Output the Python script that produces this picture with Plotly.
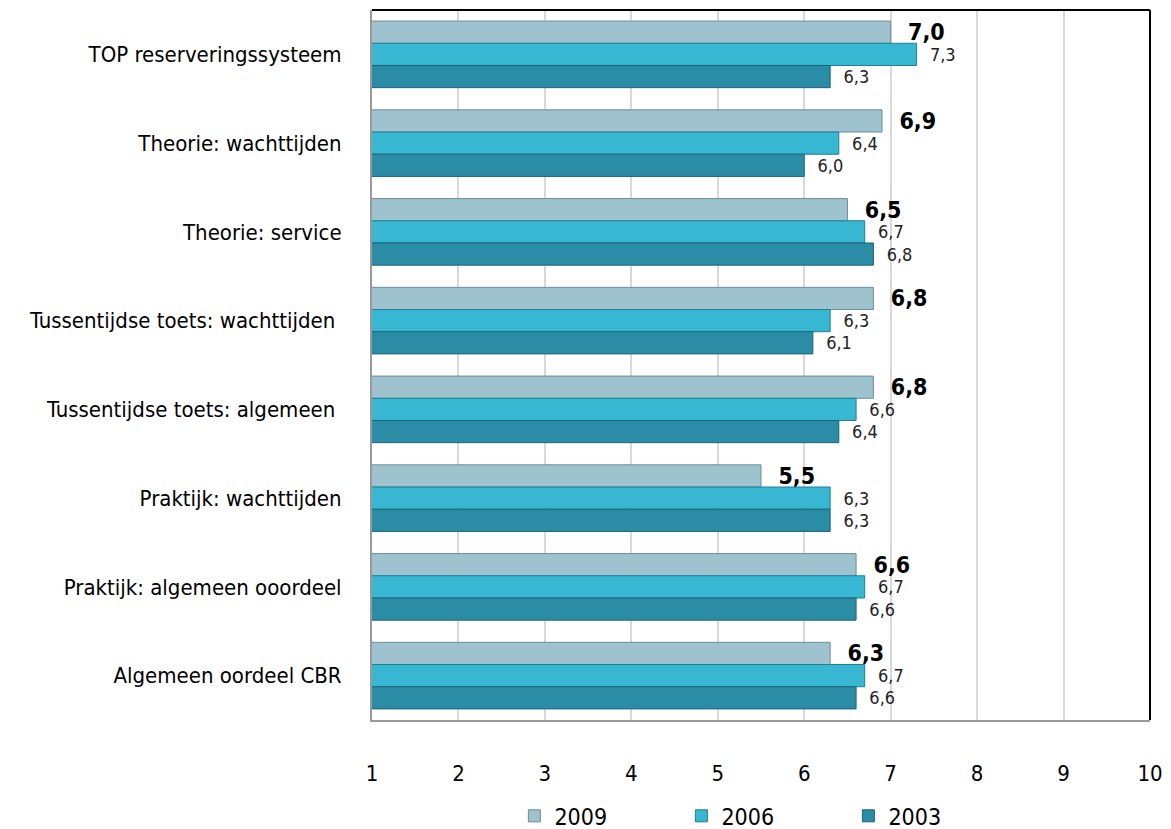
import plotly.graph_objects as go

categories = [
    "TOP reserveringssysteem",
    "Theorie: wachttijden",
    "Theorie: service",
    "Tussentijdse toets: wachttijden ",
    "Tussentijdse toets: algemeen ",
    "Praktijk: wachttijden",
    "Praktijk: algemeen ooordeel",
    "Algemeen oordeel CBR",
]
scores_2009 = [7.0, 6.9, 6.5, 6.8, 6.8, 5.5, 6.6, 6.3]
scores_2006 = [7.3, 6.4, 6.7, 6.3, 6.6, 6.3, 6.7, 6.7]
scores_2003 = [6.3, 6.0, 6.8, 6.1, 6.4, 6.3, 6.6, 6.6]
x_ticks = [1, 2, 3, 4, 5, 6, 7, 8, 9, 10]

FONT = "Liberation Sans Narrow, DejaVu Sans Condensed, sans-serif"


def label(v):
    return "\u00a0\u00a0" + f"{v:.1f}".replace(".", ",")


series = [
    ("2009", scores_2009, "#9ec3ce", "#6d8e98", dict(size=23, color="black", family=FONT), True),
    ("2006", scores_2006, "#38b7d3", "#1f7f95", dict(size=18, color="#222", family=FONT), False),
    ("2003", scores_2003, "#2b8ca5", "#1b6477", dict(size=18, color="#222", family=FONT), False),
]

fig = go.Figure()
for name, vals, color, edge, tfont, bold in series:
    texts = [label(v) for v in vals]
    if bold:
        texts = [f"<b>{t}</b>" for t in texts]
    fig.add_trace(go.Bar(
        y=categories, x=vals,
        orientation="h",
        name=name,
        marker=dict(color=color, line=dict(color=edge, width=1)),
        text=texts,
        textposition="outside",
        textfont=tfont,
        constraintext="none",
        cliponaxis=False,
    ))

fig.update_layout(
    barmode="group",
    bargap=0.25,
    bargroupgap=0.0,
    plot_bgcolor="white",
    paper_bgcolor="white",
    width=1171, height=829,
    margin=dict(l=372, r=21, t=10, b=109, autoexpand=False),
    font=dict(family=FONT, size=20, color="black"),
    legend=dict(
        orientation="h",
        x=0.505, xanchor="center",
        y=-0.135, yanchor="middle",
        font=dict(size=23, family=FONT),
        entrywidth=122,
        traceorder="normal",
    ),
)
fig.update_xaxes(
    range=[1, 10],
    tickvals=x_ticks,
    showgrid=True, gridcolor="#d9d9d9", gridwidth=2,
    showline=True, linecolor="#999999", linewidth=2,
    ticks="", ticklabelstandoff=33,
    tickfont=dict(size=22),
    zeroline=False,
)
fig.update_yaxes(
    autorange="reversed",
    showline=True, linecolor="#999999", linewidth=2,
    ticks="", ticklabelstandoff=24,
    tickfont=dict(size=22),
)
# black frame on the top and right edges of the plot area
fig.add_shape(type="line", xref="x domain", yref="y domain",
              x0=0, x1=1, y0=1, y1=1, line=dict(color="black", width=2))
fig.add_shape(type="line", xref="x domain", yref="y domain",
              x0=1, x1=1, y0=0, y1=1, line=dict(color="black", width=2))

fig.write_html("out.html", config={"displayModeBar": False},
               post_script="document.body.style.margin='0';")
